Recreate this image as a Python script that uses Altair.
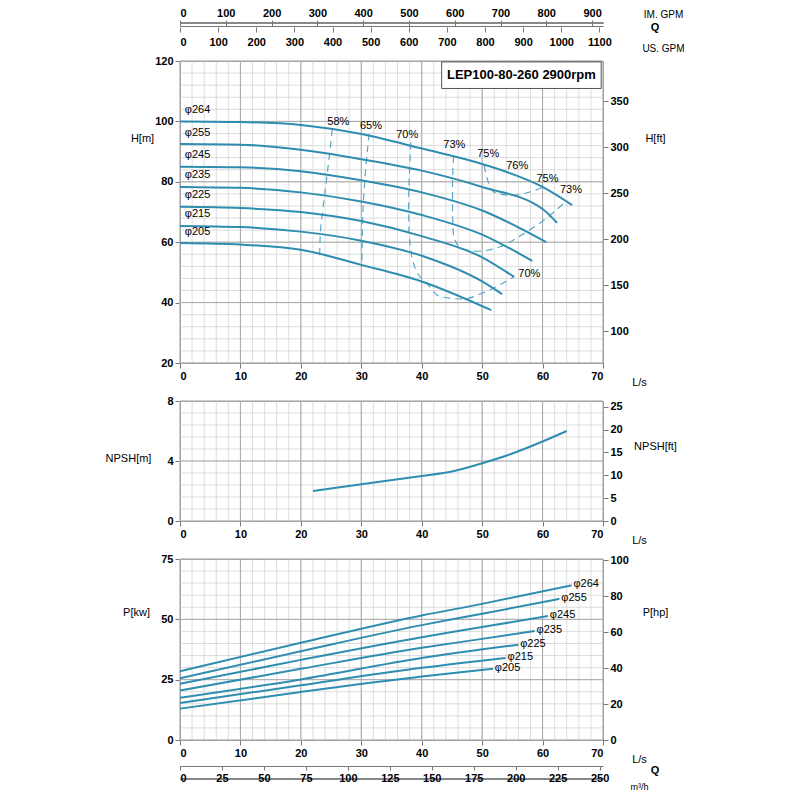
import altair as alt
import pandas as pd
import numpy as np

W = 423
BLUE = "#2f8db0"
FONT = "Liberation Sans"

diams = ["φ264", "φ255", "φ245", "φ235", "φ225", "φ215", "φ205"]

# H-Q curves (L/s, m)
h_q = [
    [0, 10, 20, 30, 40, 50, 60, 64.9],
    [0, 10, 20, 30, 40, 50, 60, 62.4],
    [0, 10, 20, 30, 40, 50, 60.6],
    [0, 10, 20, 30, 40, 50, 58.3],
    [0, 10, 20, 30, 40, 50, 55.3],
    [0, 10, 20, 30, 40, 50, 53.3],
    [0, 10, 20, 30, 40, 51.5],
]
h_h = [
    [100, 99.8, 98.8, 95.8, 91, 85.9, 78.3, 72.3],
    [92.5, 92.3, 90.6, 87.5, 83.7, 78.3, 71, 66.4],
    [85, 84.8, 83.5, 80.5, 76.5, 70.5, 60],
    [78.3, 78, 76.5, 73.5, 69, 62.5, 53.8],
    [71.7, 71.3, 70, 67, 62, 55, 48.5],
    [65.4, 65, 63.5, 60.5, 55.5, 47, 42.8],
    [59.7, 59.2, 57.5, 52.5, 47, 37.5],
]

# efficiency contours (L/s, m)
eff_names = ["58%", "65%", "70%", "73%", "75%"]
eff_q = [
    [25.2, 24.8, 24.2, 23.6, 23.2, 23.1],
    [31.3, 30.9, 30.5, 30.2, 30.1],
    [38.2, 38, 37.8, 37.9, 38.8, 41, 43, 46.7, 51, 55.3],
    [45.3, 45.1, 45.1, 45.3, 46.5, 49, 53, 57, 61, 63.9],
    [50.3, 51, 52, 55, 58, 60.3],
]
eff_h = [
    [97.5, 90, 80, 70, 62, 55],
    [96, 88, 78, 66, 52],
    [93, 85, 75, 63, 52, 46, 42, 41.2, 44, 48.6],
    [88.5, 80, 70, 62, 58, 57, 58.5, 63, 68.5, 73.6],
    [85.5, 80, 76.5, 75.5, 76.7, 78.3],
]
eff_lbl = ["58%", "65%", "70%", "73%", "75%", "76%", "75%", "73%", "70%"]
eff_lbl_q = [26.2, 31.6, 37.6, 45.4, 51, 55.8, 60.8, 64.7, 57.8]
eff_lbl_h = [99.8, 98.5, 95.5, 92.2, 89.2, 85.2, 80.9, 77.3, 49.5]

# NPSH
npsh_q = [22, 30, 40, 45, 50, 55, 60, 64]
npsh_h = [2.0, 2.45, 3.0, 3.3, 3.85, 4.5, 5.3, 6.0]

# power curves (L/s, kW)
p_q = [
    [0, 20, 40, 50, 64.8],
    [0, 20, 40, 50, 62.8],
    [0, 20, 40, 50, 60.9],
    [0, 20, 40, 50, 58.7],
    [0, 20, 40, 56],
    [0, 20, 40, 53.9],
    [0, 20, 40, 51.8],
]
p_p = [
    [28.5, 40.3, 51.6, 56.4, 64.1],
    [25.6, 36.8, 47.6, 52.3, 58.5],
    [23.3, 33.2, 42.6, 46.8, 51.4],
    [20.5, 29.5, 38.2, 41.9, 45.2],
    [17.5, 25.1, 34, 39.5],
    [15.3, 22.7, 29.9, 34],
    [13, 19.9, 26.3, 29.5],
]

# secondary unit ticks
im_gpm = list(range(0, 901, 100))
us_gpm = list(range(0, 1101, 100))
m3h = list(range(0, 251, 25))
ft_ticks = list(range(100, 351, 50))
npsh_ft = list(range(0, 26, 5))
hp_ticks = list(range(0, 101, 20))

xs = alt.Scale(domain=[0, 70], nice=False, zero=True)
AX = dict(grid=False, domainColor="#777", tickColor="#777", labelFontWeight="bold")


def long(names, qs, vs):
    rows = []
    for n, q, v in zip(names, qs, vs):
        for i, (a, b) in enumerate(zip(q, v)):
            rows.append({"name": n, "q": a, "v": b, "i": i})
    return pd.DataFrame(rows)


def grid(ymin, ymax, ystep, ymajor):
    xminor = pd.DataFrame({"q": np.arange(0, 71, 2)})
    xmajor = pd.DataFrame({"q": np.arange(0, 71, 10)})
    yminor = pd.DataFrame({"v": np.arange(ymin, ymax + 0.01, ystep)})
    ymaj = pd.DataFrame({"v": np.arange(ymin, ymax + 0.01, ymajor)})
    ys = alt.Scale(domain=[ymin, ymax], nice=False, zero=False)
    g = [
        alt.Chart(xminor).mark_rule(color="#d4d4d4", strokeWidth=0.8).encode(x=alt.X("q:Q", scale=xs)),
        alt.Chart(yminor).mark_rule(color="#d4d4d4", strokeWidth=0.8).encode(
            y=alt.Y("v:Q", scale=ys, axis=None)),
        alt.Chart(xmajor).mark_rule(color="#a8a8a8", strokeWidth=1).encode(x=alt.X("q:Q", scale=xs)),
        alt.Chart(ymaj).mark_rule(color="#a8a8a8", strokeWidth=1).encode(
            y=alt.Y("v:Q", scale=ys, axis=None)),
    ]
    return g, ys


def xaxis():
    return alt.X(
        "q:Q", scale=xs,
        axis=alt.Axis(values=list(range(0, 71, 10)), title="L/s", titleAngle=0,
                      titleX=W + 36, titleY=13, titleFontSize=11, **AX),
    )


def right_axis(factor, lo, hi, values, title, titley):
    d = pd.DataFrame({"q": [0.0, 70.0], "r": [lo / factor, hi / factor]})
    return alt.Chart(d).mark_point(opacity=0).encode(
        x=alt.X("q:Q", scale=xs),
        y=alt.Y("r:Q", scale=alt.Scale(domain=[lo / factor, hi / factor], nice=False, zero=False),
                axis=alt.Axis(orient="right", values=values, title=title, titleAngle=0,
                              titleX=52, titleY=titley, **AX)),
    )


dummy = pd.DataFrame({"q": [0.0], "v": [0.0]})
ys01 = alt.Scale(domain=[0, 1])
qlabel = pd.DataFrame({"q": [78.6], "v": [0.0], "t": ["Q"]})

# ---------- top flow axes ----------
top_im = alt.Chart(dummy).mark_point(opacity=0).encode(
    x=alt.X("q:Q", scale=alt.Scale(domain=[0, 70 * 13.198], nice=False, zero=True),
            axis=alt.Axis(orient="top", values=im_gpm, title="IM. GPM", tickSize=6, offset=-4,
                          titleAngle=0, titleX=W + 60, titleY=-12, titleBaseline="middle",
                          titleFontSize=10, **AX)),
    y=alt.Y("v:Q", scale=ys01, axis=None),
)
top_us = alt.Chart(dummy).mark_point(opacity=0).encode(
    x=alt.X("q:Q", scale=alt.Scale(domain=[0, 70 * 15.850], nice=False, zero=True),
            axis=alt.Axis(orient="bottom", values=us_gpm, title="US. GPM", domain=False,
                          tickSize=5, labelPadding=4, offset=4, labelExpr="datum.value",
                          titleAngle=0, titleX=W + 60, titleY=16, titleFontSize=10, **AX)),
    y=alt.Y("v:Q", scale=ys01, axis=None),
)
top_q = alt.Chart(qlabel).mark_text(fontWeight="bold", fontSize=11, font=FONT, dy=5).encode(
    x=alt.X("q:Q", scale=xs, axis=None), y=alt.Y("v:Q", scale=ys01, axis=None), text="t:N")
top = alt.layer(top_im, top_us, top_q).resolve_scale(x="independent").properties(
    width=W, height=1)

# ---------- H panel ----------
hdf = long(diams, h_q, h_h)
edf = long(eff_names, eff_q, eff_h)
g, hs = grid(20, 120, 4, 20)
h_lines = alt.Chart(hdf).mark_line(color=BLUE, strokeWidth=2, interpolate="monotone").encode(
    x=xaxis(),
    y=alt.Y("v:Q", scale=hs, axis=alt.Axis(values=list(range(20, 121, 20)), title="H[m]", titleAngle=0,
                                           titleX=-38, titleY=82, **AX)),
    detail="name:N", order="i:Q",
)
e_lines = alt.Chart(edf).mark_line(color="#5aa8c8", strokeWidth=1.2, strokeDash=[7, 5],
                                   interpolate="monotone").encode(
    x=alt.X("q:Q", scale=xs), y=alt.Y("v:Q", scale=hs, axis=None),
    detail="name:N", order="i:Q")
d_lbl = pd.DataFrame({"t": diams, "q": [0.8] * 7, "v": [hh[0] + 3.8 for hh in h_h]})
d_text = alt.Chart(d_lbl).mark_text(align="left", fontSize=11, font=FONT).encode(
    x=alt.X("q:Q", scale=xs), y=alt.Y("v:Q", scale=hs, axis=None), text="t:N")
e_lbl = pd.DataFrame({"t": eff_lbl, "q": eff_lbl_q, "v": eff_lbl_h})
e_text = alt.Chart(e_lbl).mark_text(fontSize=11, font=FONT).encode(
    x=alt.X("q:Q", scale=xs), y=alt.Y("v:Q", scale=hs, axis=None), text="t:N")
box_df = pd.DataFrame({"q": [43.3], "q2": [69.7], "v": [110.9], "v2": [119.7],
                       "qc": [56.5], "vc": [115.2], "t": ["LEP100-80-260 2900rpm"]})
box = alt.Chart(box_df).mark_rect(fill="white", stroke="#555", strokeWidth=1).encode(
    x=alt.X("q:Q", scale=xs), x2="q2:Q", y=alt.Y("v:Q", scale=hs, axis=None), y2="v2:Q")
title = alt.Chart(box_df).mark_text(fontWeight="bold", fontSize=13, font=FONT).encode(
    x=alt.X("qc:Q", scale=xs), y=alt.Y("vc:Q", scale=hs, axis=None), text="t:N")
h_ft = right_axis(0.3048, 20, 120, ft_ticks, "H[ft]", 82)
h_panel = alt.layer(*g, e_lines, h_lines, d_text, e_text, box, title, h_ft).resolve_scale(
    y="independent").properties(width=W, height=302)

# ---------- NPSH panel ----------
ndf = pd.DataFrame({"q": npsh_q, "v": npsh_h, "i": range(len(npsh_q))})
g2, ns = grid(0, 8, 0.8, 4)
n_line = alt.Chart(ndf).mark_line(color=BLUE, strokeWidth=2, interpolate="monotone").encode(
    x=xaxis(),
    y=alt.Y("v:Q", scale=ns, axis=alt.Axis(values=[0, 4, 8], title="NPSH[m]", titleAngle=0,
                                           titleX=-52, titleY=62, **AX)),
    order="i:Q",
)
n_ft = right_axis(0.3048, 0, 8, npsh_ft, "NPSH[ft]", 50)
n_panel = alt.layer(*g2, n_line, n_ft).resolve_scale(y="independent").properties(
    width=W, height=120)

# ---------- Power panel ----------
pdf = long(diams, p_q, p_p)
g3, ps = grid(0, 75, 5, 25)
p_lines = alt.Chart(pdf).mark_line(color=BLUE, strokeWidth=2, interpolate="monotone").encode(
    x=xaxis(),
    y=alt.Y("v:Q", scale=ps, axis=alt.Axis(values=[0, 25, 50, 75], title="P[kw]", titleAngle=0,
                                           titleX=-44, titleY=58, **AX)),
    detail="name:N", order="i:Q",
)
p_lbl = pd.DataFrame({"t": diams, "q": [pq[-1] + 0.3 for pq in p_q], "v": [pp[-1] for pp in p_p]})
p_text = alt.Chart(p_lbl).mark_text(align="left", dy=-1, fontSize=11, font=FONT).encode(
    x=alt.X("q:Q", scale=xs), y=alt.Y("v:Q", scale=ps, axis=None), text="t:N")
p_hp = right_axis(0.7457, 0, 75, hp_ticks, "P[hp]", 58)
p_panel = alt.layer(*g3, p_lines, p_text, p_hp).resolve_scale(y="independent").properties(
    width=W, height=181)

# ---------- m3/h axis ----------
bot_axis = alt.Chart(dummy).mark_point(opacity=0).encode(
    x=alt.X("q:Q", scale=alt.Scale(domain=[0, 70 * 3.6], nice=False, zero=True),
            axis=alt.Axis(orient="bottom", values=m3h, title="m³/h", tickSize=4, offset=-13,
                          titleAngle=0, titleX=W + 36, titleY=16, titleFontSize=9, **AX)),
    y=alt.Y("v:Q", scale=ys01, axis=None),
)
bot_q = alt.Chart(qlabel).mark_text(fontWeight="bold", fontSize=11, font=FONT, dy=-8).encode(
    x=alt.X("q:Q", scale=xs, axis=None), y=alt.Y("v:Q", scale=ys01, axis=None), text="t:N")
bot = alt.layer(bot_axis, bot_q).resolve_scale(x="independent").properties(width=W, height=1)

chart = alt.vconcat(top, h_panel, n_panel, p_panel, bot, spacing=38, bounds="flush")
chart = chart.properties(padding={"left": 96, "top": -2, "right": 5, "bottom": 0}).configure_view(
    stroke="#888").configure_axis(
    labelFont=FONT, titleFont=FONT, labelFontSize=11, titleFontSize=11, titleFontWeight="normal",
    labelColor="black", titleColor="black")

chart.save("out.html", embed_options={"renderer": "svg", "actions": False})
